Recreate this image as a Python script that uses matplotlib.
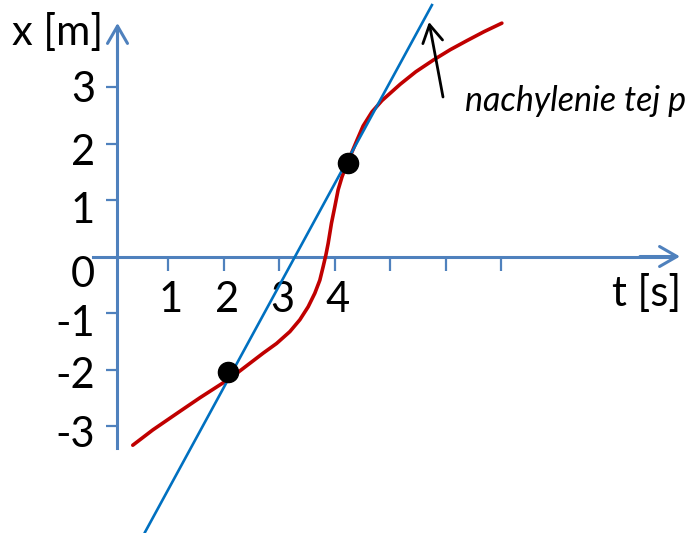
import matplotlib
matplotlib.use("Agg")
import matplotlib.pyplot as plt

plt.rcParams['font.family'] = ['Lato', 'DejaVu Sans']

# ---------------- data (t in s, x in m) ----------------
t_curve = [0.36, 0.72, 1.21, 1.57, 2.06, 2.23, 2.47, 2.71, 2.95, 3.19, 3.37,
           3.52, 3.64, 3.73, 3.79, 3.84, 3.88, 3.94, 4.00, 4.06, 4.13, 4.21,
           4.31, 4.40, 4.51, 4.67, 4.85, 5.18, 5.46, 5.78, 6.08, 6.38, 6.69,
           7.01]
x_curve = [-3.34, -3.07, -2.74, -2.50, -2.19, -2.07, -1.89, -1.71, -1.54,
           -1.33, -1.12, -0.89, -0.65, -0.42, -0.18, 0.03, 0.23, 0.59, 0.88,
           1.18, 1.41, 1.62, 1.85, 2.06, 2.31, 2.56, 2.76, 3.05, 3.27, 3.48,
           3.66, 3.82, 3.98, 4.13]
t_tangent = [0.58, 5.75]
x_tangent = [-4.88, 4.45]
t_points = [2.07, 4.24]
x_points = [-2.05, 1.65]

xtick_values = [1, 2, 3, 4, 5, 6, 7]
xtick_labels = ['1', '2', '3', '4']
ytick_values = [-3, -2, -1, 1, 2, 3]
ylabel_values = [3, 2, 1, 0, -1, -2, -3]
ylabel_texts = ['3', '2', '1', '0', '-1', '-2', '-3']

# ---------------- layout (pixel mapping) ----------------
W, H = 689, 533
PX0, SX = 112.8, 55.5     # pixel of t=0, pixels per second
PY0, SY = 256.5, 56.5     # pixel of x=0, pixels per metre


def px2t(px):
    return (px - PX0) / SX


def py2x(py):
    return (PY0 - py) / SY


AXIS_C = '#4F81BD'
RED = '#C00000'
BLUE = '#0070C0'

fig = plt.figure(figsize=(W / 100, H / 100), dpi=100)
ax = fig.add_axes([0, 0, 1, 1])
ax.set_xlim(px2t(0), px2t(W))
ax.set_ylim(py2x(H), py2x(0))
ax.patch.set_alpha(0)

# axes lines via spines
t_axis = px2t(117.5)
ax.spines['top'].set_visible(False)
ax.spines['right'].set_visible(False)
ax.spines['left'].set_position(('data', t_axis))
ax.spines['bottom'].set_position(('data', 0))
ax.spines['left'].set_bounds(py2x(448), py2x(30))
ax.spines['bottom'].set_bounds(px2t(93), px2t(672))
for s in ('left', 'bottom'):
    ax.spines[s].set_color(AXIS_C)
    ax.spines[s].set_linewidth(2.2)
    ax.spines[s].set_zorder(1)

ax.set_xticks(xtick_values)
ax.set_yticks(ytick_values)
ax.tick_params(axis='x', direction='out', length=10, width=1.6, color=AXIS_C,
               labelbottom=False)
ax.tick_params(axis='y', direction='out', length=8, width=1.6, color=AXIS_C,
               labelleft=False)

head = '->,head_length=1.25,head_width=0.72'
ax.annotate('', xy=(t_axis, py2x(23)), xytext=(t_axis, py2x(60)),
            arrowprops=dict(arrowstyle=head, color=AXIS_C, lw=2.2,
                            shrinkA=0, shrinkB=0, mutation_scale=10))
ax.annotate('', xy=(px2t(680), 0), xytext=(px2t(640), 0),
            arrowprops=dict(arrowstyle=head, color=AXIS_C, lw=2.2,
                            shrinkA=0, shrinkB=0, mutation_scale=10))

# tick labels
FS = 30
for v, lab in zip(xtick_values, xtick_labels):
    ax.text(v + 0.05, py2x(312), lab, fontsize=FS, ha='center',
            va='baseline', color='black')
ylabel_baseline_shift_px = [15, 21.5, 23, 30.5, 23, 18.5, 21]
for v, lab, sh in zip(ylabel_values, ylabel_texts, ylabel_baseline_shift_px):
    py = PY0 - v * SY + sh
    ax.text(px2t(95), py2x(py), lab, fontsize=FS, ha='right',
            va='baseline', color='black')

ax.text(px2t(12), py2x(45), 'x [m]', fontsize=FS, ha='left', va='baseline')
ax.text(px2t(612), py2x(306), 't [s]', fontsize=FS, ha='left', va='baseline')

# curves
ax.plot(t_curve, x_curve, color=RED, lw=2.6, solid_capstyle='round',
        solid_joinstyle='round', zorder=3)
ax.plot(t_tangent, x_tangent, color=BLUE, lw=1.9, zorder=4)
ax.plot(t_points, x_points, 'o', color='black', markersize=14.5, zorder=5)

# annotation arrow
ax.annotate('', xy=(px2t(429), py2x(22)), xytext=(px2t(443), py2x(97)),
            arrowprops=dict(arrowstyle=head, color='black', lw=2.0,
                            shrinkA=0, shrinkB=0, mutation_scale=10))
ax.text(px2t(465), py2x(111), 'nachylenie tej p', fontsize=24.5,
        fontstyle='italic', ha='left', va='baseline')

fig.savefig('out.png', dpi=100)
